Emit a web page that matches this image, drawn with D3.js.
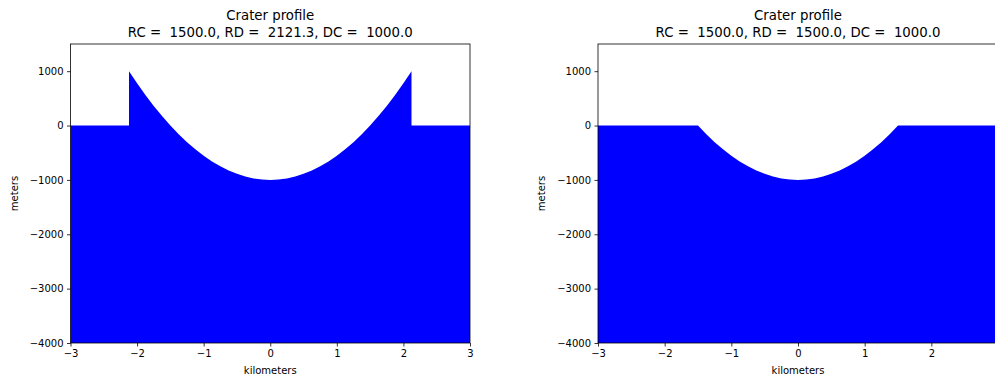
<!DOCTYPE html>
<html><head><meta charset="utf-8">
<script src="https://cdn.jsdelivr.net/npm/d3@7"></script>
<style>body{margin:0;background:#fff;overflow:hidden}svg{display:block;font-family:"DejaVu Sans",sans-serif}text{white-space:pre}</style>
</head><body><svg id="c" width="995" height="375"></svg>
<script>
// Profile 1: RC=1500, RD=2121.3, DC=1000 (x in km, z in m)
const xs1 = [-3, -2.1213, -2.1213, -2.0, -1.875, -1.75, -1.625, -1.5, -1.375, -1.25, -1.125, -1.0, -0.875, -0.75, -0.625, -0.5, -0.375, -0.25, -0.125, 0,
             0.125, 0.25, 0.375, 0.5, 0.625, 0.75, 0.875, 1.0, 1.125, 1.25, 1.375, 1.5, 1.625, 1.75, 1.875, 2.0, 2.1213, 2.1213, 3];
const zs1 = [0, 0, 1000, 777.8, 562.5, 361.1, 173.6, 0, -159.7, -305.6, -437.5, -555.6, -659.7, -750, -826.4, -888.9, -937.5, -972.2, -993.1, -1000,
             -993.1, -972.2, -937.5, -888.9, -826.4, -750, -659.7, -555.6, -437.5, -305.6, -159.7, 0, 173.6, 361.1, 562.5, 777.8, 1000, 0, 0];
// Profile 2: RC=1500, RD=1500, DC=1000
const xs2 = [-3, -1.5, -1.375, -1.25, -1.125, -1.0, -0.875, -0.75, -0.625, -0.5, -0.375, -0.25, -0.125, 0,
             0.125, 0.25, 0.375, 0.5, 0.625, 0.75, 0.875, 1.0, 1.125, 1.25, 1.375, 1.5, 3];
const zs2 = [0, 0, -159.7, -305.6, -437.5, -555.6, -659.7, -750, -826.4, -888.9, -937.5, -972.2, -993.1, -1000,
             -993.1, -972.2, -937.5, -888.9, -826.4, -750, -659.7, -555.6, -437.5, -305.6, -159.7, 0, 0];
const titles1 = ["Crater profile", "RC =  1500.0, RD =  2121.3, DC =  1000.0"];
const titles2 = ["Crater profile", "RC =  1500.0, RD =  1500.0, DC =  1000.0"];
const xTicks = [-3, -2, -1, 0, 1, 2, 3];
const xTicksVisible2 = [-3, -2, -1, 0, 1, 2];
const yTicks = [1000, 0, -1000, -2000, -3000, -4000];
const xDomain = [-3, 3];
const yDomain = [-4000, 1500];

const svg = d3.select("#c");
const fmt = v => (v < 0 ? "\u2212" + Math.abs(v) : String(v));

function panel(x0, x1, xs, zs, titles, id, xt) {
  const top = 44, bottom = 343;
  const x = d3.scaleLinear().domain(xDomain).range([x0, x1]);
  const y = d3.scaleLinear().domain(yDomain).range([bottom, top]);
  const g = svg.append("g");
  g.append("clipPath").attr("id", id).append("rect")
    .attr("x", x0).attr("y", top).attr("width", x1 - x0).attr("height", bottom - top);
  const data = xs.map((v, i) => [v, zs[i]]);
  const area = d3.area().x(d => x(d[0])).y0(y(yDomain[0])).y1(d => y(d[1]));
  g.append("path").attr("d", area(data)).attr("fill", "#0000ff").attr("clip-path", `url(#${id})`);
  g.append("rect").attr("x", x0).attr("y", top).attr("width", x1 - x0).attr("height", bottom - top)
    .attr("fill", "none").attr("stroke", "#000").attr("stroke-width", 0.8);
  const xa = g.append("g").attr("transform", `translate(0,${bottom})`)
    .call(d3.axisBottom(x).tickValues(xt).tickFormat(fmt).tickSize(3.5).tickPadding(3.5));
  const ya = g.append("g").attr("transform", `translate(${x0},0)`)
    .call(d3.axisLeft(y).tickValues(yTicks).tickFormat(fmt).tickSize(3.5).tickPadding(3.5));
  [xa, ya].forEach(a => {
    a.select(".domain").remove();
    a.selectAll("line").attr("stroke", "#000").attr("stroke-width", 0.8);
    a.selectAll("text").attr("font-size", 10).attr("fill", "#000").attr("font-family", "DejaVu Sans");
  });
  g.append("text").attr("x", (x0 + x1) / 2).attr("y", 374).attr("text-anchor", "middle")
    .attr("font-size", 10).text("kilometers");
  g.append("text").attr("transform", `translate(${x0 - 53},${(top + bottom) / 2}) rotate(-90)`)
    .attr("text-anchor", "middle").attr("font-size", 10).text("meters");
  g.append("text").attr("x", (x0 + x1) / 2).attr("y", 20).attr("text-anchor", "middle")
    .attr("font-size", 13.3).text(titles[0]);
  g.append("text").attr("x", (x0 + x1) / 2).attr("y", 37).attr("text-anchor", "middle")
    .attr("font-size", 13.3).text(titles[1]);
}
panel(70.5, 470, xs1, zs1, titles1, "cp1", xTicks);
panel(598, 998, xs2, zs2, titles2, "cp2", xTicksVisible2);
</script></body></html>
